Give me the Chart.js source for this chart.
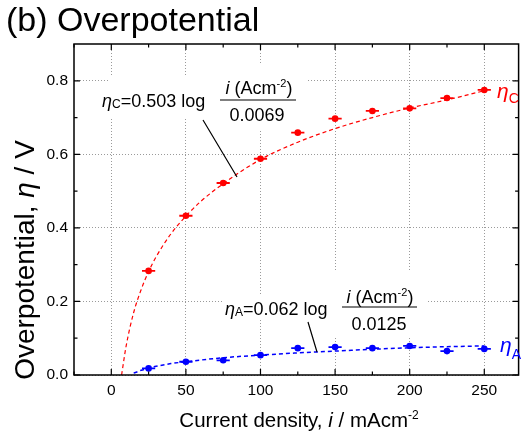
<!DOCTYPE html>
<html><head><meta charset="utf-8">
<script src="https://cdn.jsdelivr.net/npm/chart.js@4/dist/chart.umd.min.js"></script>
<style>html,body{margin:0;padding:0;background:#fff;}#wrap{width:527px;height:433px;}</style>
</head><body><div id="wrap"><canvas id="c" width="527" height="433"></canvas></div>
<script>
// ---- data ----
const currentDensity = [25, 50, 75, 100, 125, 150, 175, 200, 225, 250];
const etaC = [0.283, 0.433, 0.522, 0.588, 0.659, 0.697, 0.718, 0.725, 0.753, 0.775];
const etaA = [0.018, 0.036, 0.040, 0.054, 0.073, 0.076, 0.073, 0.079, 0.065, 0.071];
const xErr = [3, 3, 3, 3, 3, 3, 3, 3, 3, 3];
const fitCx = [6.9, 10, 15, 20, 25, 30, 40, 50, 60, 75, 100, 125, 150, 175, 200, 225, 250];
const fitCy = [0, 0.08, 0.17, 0.232, 0.281, 0.321, 0.384, 0.432, 0.472, 0.52, 0.586, 0.633, 0.67, 0.70, 0.726, 0.748, 0.773];
const fitAx = [15, 20, 25, 30, 40, 50, 75, 100, 125, 150, 175, 200, 225, 250];
const fitAy = [0.005, 0.0127, 0.0187, 0.0236, 0.031, 0.036, 0.047, 0.054, 0.060, 0.065, 0.070, 0.074, 0.077, 0.079];
const xTicks = [0, 50, 100, 150, 200, 250];
const xMinor = [-25, 25, 75, 125, 175, 225];
const yTicks = [0, 0.2, 0.4, 0.6, 0.8];
const yMinor = [0.1, 0.3, 0.5, 0.7];

const FONT = '"Liberation Sans", Arial, Helvetica, sans-serif';
const RED = '#ff0000', BLUE = '#0000ff';

const pts = (xs, ys) => xs.map((x, i) => ({x: x, y: ys[i]}));

function drawRich(ctx, parts, x, y, align) {
  let w = 0;
  parts.forEach(p => { ctx.font = (p[2] ? 'italic ' : '') + p[1] + 'px ' + FONT; p.w = ctx.measureText(p[0]).width; w += p.w; });
  let cx = align === 'center' ? x - w / 2 : (align === 'right' ? x - w : x);
  parts.forEach(p => { ctx.font = (p[2] ? 'italic ' : '') + p[1] + 'px ' + FONT; ctx.fillText(p[0], cx, y + (p[3] || 0)); cx += p.w; });
}

const decor = {
  id: 'decor',
  beforeDatasetsDraw(chart) {
    const ctx = chart.ctx;
    ctx.save();
    ctx.fillStyle = '#fff';
    ctx.fillRect(110, 77, 106, 41);
    ctx.fillRect(216, 63, 91, 67);
    ctx.fillRect(222, 294, 110, 25);
    ctx.fillRect(332, 272, 96, 66);
    ctx.restore();
  },
  afterDraw(chart) {
    const ctx = chart.ctx, a = chart.chartArea;
    const xs = chart.scales.x, ys = chart.scales.y;
    ctx.save();
    ctx.strokeStyle = '#000';
    ctx.lineWidth = 1.5;
    ctx.strokeRect(a.left, a.top, a.right - a.left, a.bottom - a.top);
    ctx.lineWidth = 1.2;
    ctx.beginPath();
    const tick = (v, len, axis) => {
      if (axis === 'x') {
        const p = xs.getPixelForValue(v);
        ctx.moveTo(p, a.bottom); ctx.lineTo(p, a.bottom - len);
        ctx.moveTo(p, a.top); ctx.lineTo(p, a.top + len);
      } else {
        const p = ys.getPixelForValue(v);
        ctx.moveTo(a.left, p); ctx.lineTo(a.left + len, p);
        ctx.moveTo(a.right, p); ctx.lineTo(a.right - len, p);
      }
    };
    xTicks.forEach(v => tick(v, 6, 'x'));
    xMinor.forEach(v => tick(v, 3.5, 'x'));
    yTicks.forEach(v => tick(v, 6, 'y'));
    yMinor.forEach(v => tick(v, 3.5, 'y'));
    ctx.stroke();

    ctx.fillStyle = '#000';
    ctx.textBaseline = 'alphabetic';
    ctx.textAlign = 'left';
    // title
    drawRich(ctx, [['(b) Overpotential', 34]], 6, 31, 'left');
    // x title
    drawRich(ctx, [['Current density, ', 20.5], ['i', 20.5, true], [' / mAcm', 20.5], ['-2', 12, false, -8]], 299, 427, 'center');
    // y title
    ctx.save();
    ctx.translate(34, 260);
    ctx.rotate(-Math.PI / 2);
    drawRich(ctx, [['Overpotential, ', 28], ['\u03b7', 28, true], [' / V', 28]], 0, 0, 'center');
    ctx.restore();

    // annotation C
    drawRich(ctx, [['\u03b7', 18, true], ['C', 12, false, 1], ['=0.503 log', 18]], 102, 107, 'left');
    drawRich(ctx, [['i', 18, true], [' (Acm', 18], ['-2', 11, false, -7], [')', 18]], 259, 94, 'center');
    drawRich(ctx, [['0.0069', 18]], 257, 121, 'center');
    // annotation A
    drawRich(ctx, [['\u03b7', 18, true], ['A', 12, false, 1], ['=0.062 log', 18]], 225, 315, 'left');
    drawRich(ctx, [['i', 18, true], [' (Acm', 18], ['-2', 11, false, -7], [')', 18]], 380, 303, 'center');
    drawRich(ctx, [['0.0125', 18]], 379, 330, 'center');
    ctx.lineWidth = 1.2;
    ctx.beginPath();
    ctx.moveTo(220, 100); ctx.lineTo(296, 100);
    ctx.moveTo(342, 307); ctx.lineTo(417, 307);
    ctx.moveTo(203, 120); ctx.lineTo(237, 177);
    ctx.moveTo(308, 322); ctx.lineTo(317, 352);
    ctx.stroke();
    // end labels
    ctx.fillStyle = RED;
    drawRich(ctx, [['\u03b7', 21, true], ['C', 14, false, 5]], 497, 98, 'left');
    ctx.fillStyle = BLUE;
    drawRich(ctx, [['\u03b7', 21, true], ['A', 14, false, 7]], 500, 352, 'left');
    ctx.restore();
  }
};

new Chart(document.getElementById('c'), {
  type: 'scatter',
  data: {
    datasets: [
      {data: pts(fitCx, fitCy), showLine: true, borderColor: RED, borderWidth: 1.2, borderDash: [4, 3], pointRadius: 0, cubicInterpolationMode: 'monotone'},
      {data: pts(fitAx, fitAy), showLine: true, borderColor: BLUE, borderWidth: 1.5, borderDash: [4, 3], pointRadius: 0, cubicInterpolationMode: 'monotone'},
      {data: pts(currentDensity, etaC), pointStyle: 'line', pointRadius: xErr.map(e => e * 2.2), borderColor: RED, borderWidth: 1.8},
      {data: pts(currentDensity, etaC), pointStyle: 'circle', pointRadius: 3.3, backgroundColor: RED, borderColor: RED, borderWidth: 0},
      {data: pts(currentDensity, etaA), pointStyle: 'line', pointRadius: xErr.map(e => e * 2.2), borderColor: BLUE, borderWidth: 1.8},
      {data: pts(currentDensity, etaA), pointStyle: 'circle', pointRadius: 3.3, backgroundColor: BLUE, borderColor: BLUE, borderWidth: 0}
    ]
  },
  options: {
    responsive: false, animation: false, devicePixelRatio: 1,
    layout: {padding: {top: 44, right: 3, left: 0, bottom: 0}},
    plugins: {legend: {display: false}, tooltip: {enabled: false}},
    scales: {
      x: {
        type: 'linear', min: -25, max: 273,
        afterBuildTicks: s => { s.ticks = xTicks.map(v => ({value: v})); },
        afterFit: s => { s.height = 58; },
        grid: {color: '#9a9a9a', lineWidth: 1, drawTicks: false},
        border: {display: false, dash: [1, 2]},
        ticks: {padding: 6, color: '#000', font: {family: FONT, size: 15.5}, maxRotation: 0, callback: v => String(v)}
      },
      y: {
        type: 'linear', min: 0, max: 0.9,
        afterBuildTicks: s => { s.ticks = yTicks.map(v => ({value: v})); },
        afterFit: s => { s.width = 74; },
        grid: {color: '#9a9a9a', lineWidth: 1, drawTicks: false},
        border: {display: false, dash: [1, 2]},
        ticks: {padding: 6, color: '#000', font: {family: FONT, size: 15.5}, callback: v => Number(v).toFixed(1)}
      }
    }
  },
  plugins: [decor]
});
</script></body></html>
